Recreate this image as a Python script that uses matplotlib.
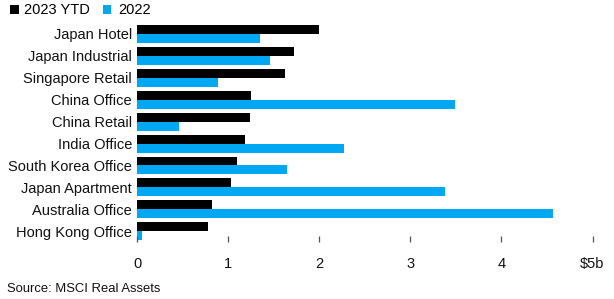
import matplotlib
matplotlib.use("Agg")
import matplotlib.pyplot as plt
from matplotlib.patches import Rectangle
import numpy as np

categories = ["Japan Hotel", "Japan Industrial", "Singapore Retail", "China Office",
              "China Retail", "India Office", "South Korea Office", "Japan Apartment",
              "Australia Office", "Hong Kong Office"]
ytd_2023 = [2.00, 1.72, 1.63, 1.25, 1.24, 1.19, 1.10, 1.03, 0.82, 0.78]
y_2022 = [1.35, 1.46, 0.89, 3.49, 0.46, 2.27, 1.65, 3.38, 4.57, 0.06]
xticks = [0, 1, 2, 3, 4, 5]
xticklabels = ["0", "1", "2", "3", "4", "$5b"]
series_names = ["2023 YTD", "2022"]

BLACK = "#000000"
BLUE = "#00a8f4"
FONT = "Liberation Sans"

W, H = 614, 299
fig = plt.figure(figsize=(W / 100, H / 100), dpi=100)
left, right, top, bottom = 137, 592.5, 23, 242
ax = fig.add_axes([left / W, 1 - bottom / H, (right - left) / W, (bottom - top) / H])

y = np.arange(len(categories))
h = 0.41
ax.barh(y - h / 2, ytd_2023, height=h, color=BLACK, linewidth=0)
ax.barh(y + h / 2, y_2022, height=h, color=BLUE, linewidth=0)

ax.set_xlim(0, 5)
ax.set_ylim(9.49, -0.50)
ax.set_yticks(y)
ax.set_yticklabels(categories, fontsize=10.5, family=FONT, color="#111111")
ax.set_xticks(xticks)
ax.set_xticklabels(xticklabels, fontsize=10.5, family=FONT, color="#111111")
ax.tick_params(axis="y", length=0, pad=3.6)
ax.tick_params(axis="x", direction="in", length=4, width=0.9, color="#555555", pad=10.5)
for s in ax.spines.values():
    s.set_visible(False)

# legend
fig.patches.append(Rectangle((10 / W, 1 - 14 / H), 9 / W, 9 / H, transform=fig.transFigure,
                             color=BLACK, lw=0))
fig.text(24 / W, 1 - 10 / H, series_names[0], fontsize=10.5, family=FONT, va="center", ha="left")
fig.patches.append(Rectangle((103 / W, 1 - 14 / H), 8 / W, 9 / H, transform=fig.transFigure,
                             color=BLUE, lw=0))
fig.text(118.5 / W, 1 - 10 / H, series_names[1], fontsize=10.5, family=FONT, va="center", ha="left")

fig.text(7 / W, 1 - 289 / H, "Source: MSCI Real Assets", fontsize=9.4, family=FONT,
         va="center", ha="left", color="#111111")

fig.savefig("out.png", dpi=100)
